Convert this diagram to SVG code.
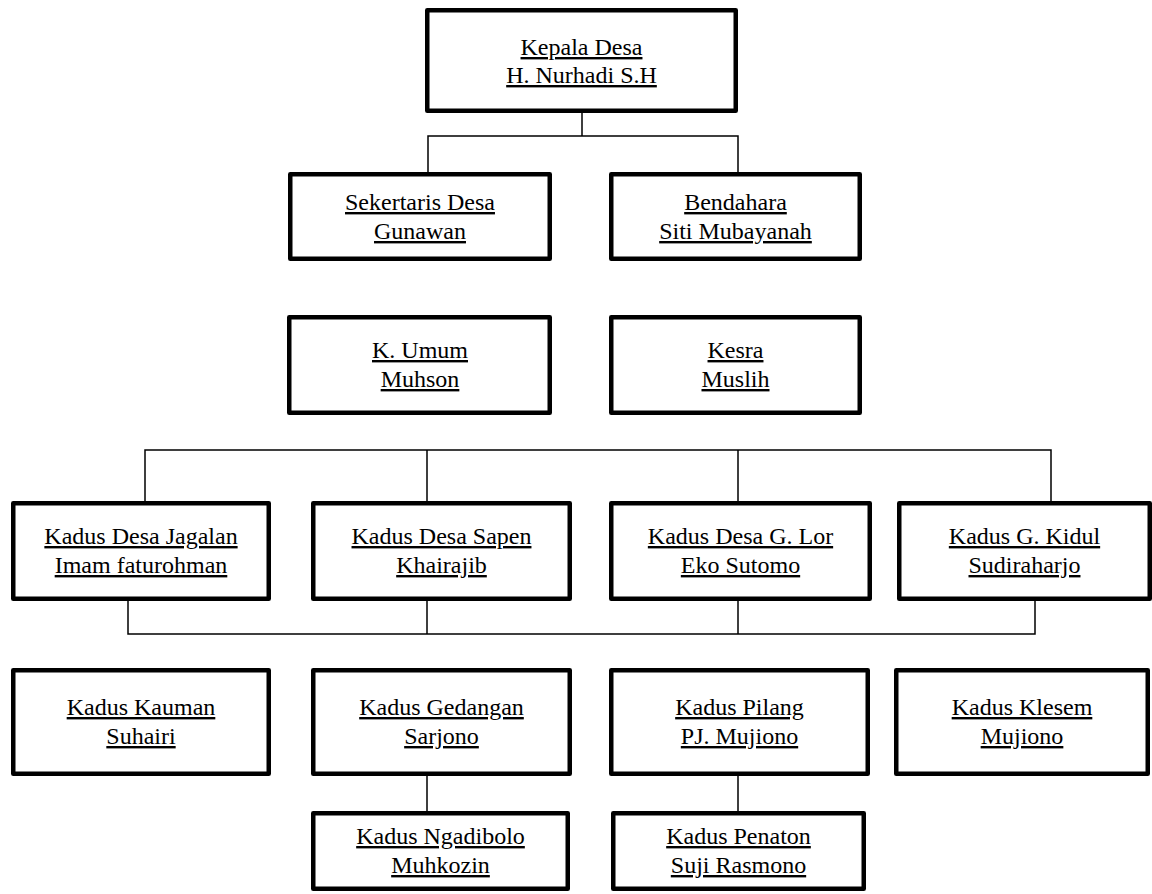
<svg xmlns="http://www.w3.org/2000/svg" width="1152" height="894" viewBox="0 0 1152 894">
<style>
.box{fill:#fff;stroke:#000;stroke-width:4.5;stroke-linejoin:round}
.con{fill:none;stroke:#000;stroke-width:1.5}
text{font-family:"Liberation Serif","Times New Roman",serif;font-size:24px;fill:#000;text-anchor:middle;text-decoration:underline}
</style>
<rect width="1152" height="894" fill="#fff"/>
<g id="connectors" class="con">
<path d="M582,113 V136 M428,172 V136 H738 V172"/>
<path d="M145,501 V450 H1051 V501 M427,450 V501 M738,450 V501"/>
<path d="M128,601 V634 H1035 V601 M427,601 V634 M738,601 V634"/>
<path d="M427,776 V811 M738,776 V811"/>
</g>
<g id="kepala-desa"><rect class="box" x="427.25" y="10.25" width="308.5" height="100.5"/><text x="581.5" y="55">Kepala Desa</text><text x="581.5" y="83">H. Nurhadi S.H</text></g>
<g id="sekertaris"><rect class="box" x="290.25" y="174.25" width="259.5" height="84.5"/><text x="420" y="210">Sekertaris Desa</text><text x="420" y="239">Gunawan</text></g>
<g id="bendahara"><rect class="box" x="611.25" y="174.25" width="248.5" height="84.5"/><text x="735.5" y="210">Bendahara</text><text x="735.5" y="239">Siti Mubayanah</text></g>
<g id="k-umum"><rect class="box" x="289.25" y="317.25" width="260.5" height="95.5"/><text x="420" y="358">K. Umum</text><text x="420" y="387">Muhson</text></g>
<g id="kesra"><rect class="box" x="611.25" y="317.25" width="248.5" height="95.5"/><text x="735.5" y="358">Kesra</text><text x="735.5" y="387">Muslih</text></g>
<g id="jagalan"><rect class="box" x="13.25" y="503.25" width="255.5" height="95.5"/><text x="141" y="544">Kadus Desa Jagalan</text><text x="141" y="573">Imam faturohman</text></g>
<g id="sapen"><rect class="box" x="313.25" y="503.25" width="256.5" height="95.5"/><text x="441.5" y="544">Kadus Desa Sapen</text><text x="441.5" y="573">Khairajib</text></g>
<g id="g-lor"><rect class="box" x="611.25" y="503.25" width="258.5" height="95.5"/><text x="740.5" y="544">Kadus Desa G. Lor</text><text x="740.5" y="573">Eko Sutomo</text></g>
<g id="g-kidul"><rect class="box" x="899.25" y="503.25" width="250.5" height="95.5"/><text x="1024.5" y="544">Kadus G. Kidul</text><text x="1024.5" y="573">Sudiraharjo</text></g>
<g id="kauman"><rect class="box" x="13.25" y="670.25" width="255.5" height="103.5"/><text x="141" y="715">Kadus Kauman</text><text x="141" y="744">Suhairi</text></g>
<g id="gedangan"><rect class="box" x="313.25" y="670.25" width="256.5" height="103.5"/><text x="441.5" y="715">Kadus Gedangan</text><text x="441.5" y="744">Sarjono</text></g>
<g id="pilang"><rect class="box" x="611.25" y="670.25" width="256.5" height="103.5"/><text x="739.5" y="715">Kadus Pilang</text><text x="739.5" y="744">PJ. Mujiono</text></g>
<g id="klesem"><rect class="box" x="896.25" y="670.25" width="251.5" height="103.5"/><text x="1022" y="715">Kadus Klesem</text><text x="1022" y="744">Mujiono</text></g>
<g id="ngadibolo"><rect class="box" x="313.25" y="813.25" width="254.5" height="75.5"/><text x="440.5" y="844">Kadus Ngadibolo</text><text x="440.5" y="873">Muhkozin</text></g>
<g id="penaton"><rect class="box" x="613.25" y="813.25" width="250.5" height="75.5"/><text x="738.5" y="844">Kadus Penaton</text><text x="738.5" y="873">Suji Rasmono</text></g>
</svg>
